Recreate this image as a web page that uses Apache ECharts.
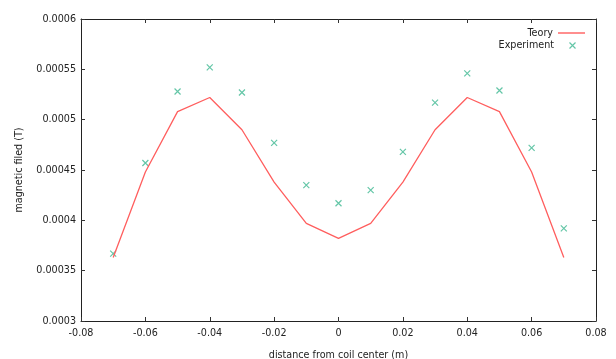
<!DOCTYPE html>
<html><head><meta charset="utf-8">
<script src="https://cdn.jsdelivr.net/npm/echarts@6/dist/echarts.min.js"></script>
<style>html,body{margin:0;padding:0;background:#fff}#c{width:616px;height:359px}</style>
</head><body><div id="c"></div>
<script>
const xValues = [-0.07,-0.06,-0.05,-0.04,-0.03,-0.02,-0.01,0,0.01,0.02,0.03,0.04,0.05,0.06,0.07];
const theory = [0.000363,0.000448,0.000508,0.000522,0.000490,0.000438,0.000397,0.000382,0.000397,0.000438,0.000490,0.000522,0.000508,0.000448,0.000363];
const experiment = [0.000367,0.000457,0.000528,0.000552,0.000527,0.000477,0.000435,0.000417,0.000430,0.000468,0.000517,0.000546,0.000529,0.000472,0.000392];
const xTicks = {min:-0.08, max:0.08, step:0.02};
const yTicks = {min:0.0003, max:0.0006, step:0.00005};

const font = 'DejaVu Sans';
const fs = 9.6;
const txt = '#222';
const axLine = {onZero:false, lineStyle:{color:'#222', width:1}};
const tick = {inside:true, length:4, lineStyle:{color:'#333'}};
const cross = 'path://M0,0L10,10M10,0L0,10';
const fmt = v => String(+(+v).toPrecision(6));

const chart = echarts.init(document.getElementById('c'), null, {renderer:'canvas'});
chart.setOption({
  animation:false,
  backgroundColor:'#fff',
  grid:{left:81, right:20, top:19, bottom:38, containLabel:false, outerBoundsMode:'none'},
  xAxis:[{
    type:'value', min:xTicks.min, max:xTicks.max, interval:xTicks.step,
    name:'distance from coil center (m)', nameLocation:'middle', nameGap:29,
    nameTextStyle:{fontFamily:font, fontSize:fs, color:txt},
    axisLine:axLine, axisTick:tick, splitLine:{show:false},
    axisLabel:{fontFamily:font, fontSize:fs, color:txt, margin:7, formatter:fmt}
  },{
    type:'value', position:'top', min:xTicks.min, max:xTicks.max, interval:xTicks.step,
    axisLine:axLine, axisTick:tick, splitLine:{show:false}, axisLabel:{show:false}
  }],
  yAxis:[{
    type:'value', min:yTicks.min, max:yTicks.max, interval:yTicks.step,
    name:'magnetic filed (T)', nameLocation:'middle', nameGap:57, nameRotate:90,
    nameTextStyle:{fontFamily:font, fontSize:fs, color:txt},
    axisLine:axLine, axisTick:tick, splitLine:{show:false},
    axisLabel:{fontFamily:font, fontSize:fs, color:txt, margin:5, formatter:fmt}
  },{
    type:'value', position:'right', min:yTicks.min, max:yTicks.max, interval:yTicks.step,
    axisLine:axLine, axisTick:tick, splitLine:{show:false}, axisLabel:{show:false}
  }],
  legend:[{
    data:[{name:'Teory', icon:'rect'}], right:31, top:28, align:'right', orient:'vertical',
    padding:0, itemWidth:27, itemHeight:1.4, itemGap:0,
    itemStyle:{color:'#ff5e5e'},
    textStyle:{fontFamily:font, fontSize:fs, color:txt}
  },{
    data:[{name:'Experiment', icon:cross}], right:38, top:40, align:'right', orient:'vertical',
    padding:0, itemWidth:27, itemHeight:6, itemGap:0,
    itemStyle:{color:'none', borderColor:'#3db891', borderWidth:1.2},
    textStyle:{fontFamily:font, fontSize:fs, color:txt}
  }],
  series:[{
    name:'Teory', type:'line', symbol:'none',
    data:xValues.map((x,i)=>[x, theory[i]]),
    lineStyle:{color:'#ff5e5e', width:1.3}, itemStyle:{color:'#ff5e5e'}
  },{
    name:'Experiment', type:'scatter', symbol:cross, symbolSize:6,
    data:xValues.map((x,i)=>[x, experiment[i]]),
    itemStyle:{color:'none', borderColor:'#3db891', borderWidth:1.2}
  }]
});
</script></body></html>
